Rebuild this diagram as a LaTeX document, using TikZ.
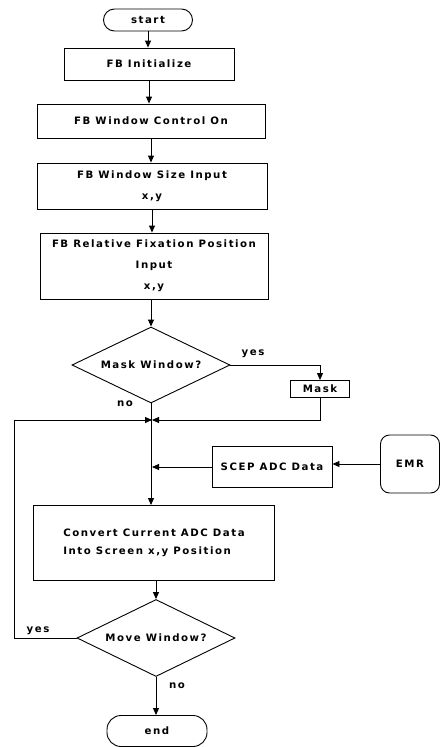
\documentclass[tikz,border=0pt]{standalone}
\usepackage{fontspec}
\setmainfont[LetterSpace=15,BoldFont={DejaVu Sans Bold}]{DejaVu Sans}
\usetikzlibrary{arrows.meta,shapes.geometric}

\begin{document}
\begin{tikzpicture}[x=1pt,y=-1pt,
  every node/.style={font=\fontsize{10.2}{21}\selectfont\bfseries},
  proc/.style={draw, line width=0.9pt, inner sep=0pt, align=center},
  term/.style={draw, line width=0.9pt, inner sep=0pt, rounded corners=11pt},
  decision/.style={draw, diamond, aspect=2.1, line width=0.9pt, inner sep=0pt},
  flow/.style={-{Triangle[length=7pt,width=6pt]}, line width=0.9pt},
  lbl/.style={inner sep=0pt}]
  \useasboundingbox (0,0) rectangle (440,747);

  % main column
  \node[term, minimum width=89, minimum height=22] (start) at (148,20) {start};
  \node[proc, minimum width=170, minimum height=32] (init) at (149,64) {FB Initialize};
  \node[proc, minimum width=228, minimum height=34] (ctrl) at (151,121) {FB Window Control On};
  \node[proc, minimum width=230, minimum height=46] (size) at (152,186) {FB Window Size Input\\x,y};
  \node[proc, minimum width=228, minimum height=66] (rel) at (154,266)
    {FB Relative Fixation Position\\Input\\x,y};
  \node[decision, minimum width=158, minimum height=76] (q1) at (151,365) {Mask Window?};
  \node[proc, minimum width=59, minimum height=17] (mask) at (320,389) {Mask};
  \node[proc, minimum width=120, minimum height=41] (scep) at (272,467) {SCEP ADC Data};
  \node[term, rounded corners=9pt, minimum width=59, minimum height=58] (emr) at (410,464) {EMR};
  \node[proc, minimum width=241, minimum height=75, align=left,
        font=\fontsize{10.2}{18}\selectfont\bfseries] (conv) at (154,543)
    {Convert Current ADC Data\\Into Screen x,y Position};
  \node[decision, minimum width=158, minimum height=77] (q2) at (156,638) {Move Window?};
  \node[term, rounded corners=14pt, minimum width=100, minimum height=31] (end) at (157,731) {end};

  \coordinate (j) at (152,420);

  % connectors
  \draw[flow] (start.south) -- (start.south |- init.north);
  \draw[flow] (init.south) -- (init.south |- ctrl.north);
  \draw[flow] (ctrl.south) -- (ctrl.south |- size.north);
  \draw[flow] (size.south) -- (size.south |- rel.north);
  \draw[flow] (rel.south -| q1.north) -- (q1.north);
  \draw[flow] (q1.east) -| (mask.north);
  \draw[flow] (q1.south) -- (q1.south |- conv.north);
  \draw[flow] (mask.south) |- (j);
  \draw[flow] (scep.west) -- (scep.west -| j);
  \draw[flow] (emr.west) -- (emr.west -| scep.east);
  \draw[flow] (conv.south -| q2.north) -- (q2.north);
  \draw[flow] (q2.west) -- ++(-62,0) |- (j);
  \draw[flow] (q2.south) -- (q2.south |- end.north);

  % branch labels
  \node[lbl] (y1) at (253,354) {yes};
  \node[lbl] (n1) at (125,404) {no};
  \node[lbl] (y2) at (38,631) {yes};
  \node[lbl] (n2) at (177,686) {no};
\end{tikzpicture}
\end{document}
